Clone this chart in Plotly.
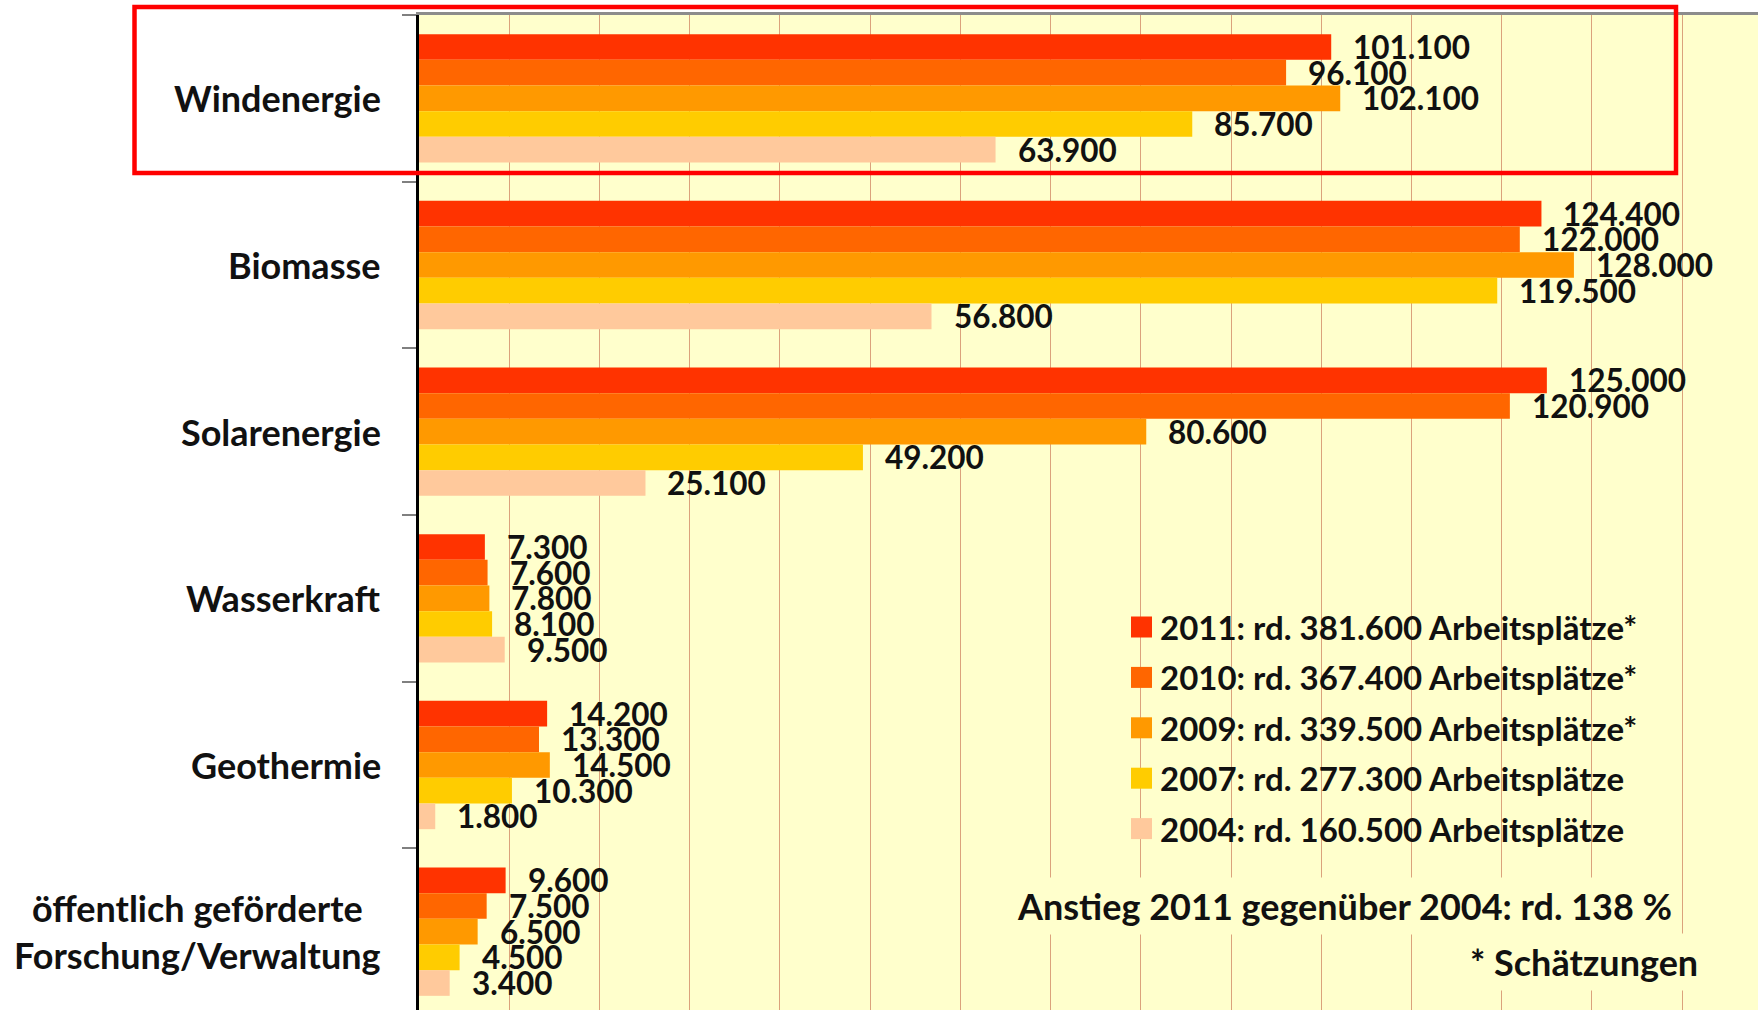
import plotly.graph_objects as go

# ---------------- data ----------------
categories = ["Windenergie", "Biomasse", "Solarenergie", "Wasserkraft", "Geothermie",
              "öffentlich geförderte<br>Forschung/Verwaltung"]
years = ["2011", "2010", "2009", "2007", "2004"]
v2011 = [101100, 124400, 125000, 7300, 14200, 9600]
v2010 = [96100, 122000, 120900, 7600, 13300, 7500]
v2009 = [102100, 128000, 80600, 7800, 14500, 6500]
v2007 = [85700, 119500, 49200, 8100, 10300, 4500]
v2004 = [63900, 56800, 25100, 9500, 1800, 3400]
series = [v2011, v2010, v2009, v2007, v2004]
legend_labels = ["2011: rd. 381.600 Arbeitsplätze*",
                 "2010: rd. 367.400 Arbeitsplätze*",
                 "2009: rd. 339.500 Arbeitsplätze*",
                 "2007: rd. 277.300 Arbeitsplätze",
                 "2004: rd. 160.500 Arbeitsplätze"]
note_increase = "Anstieg 2011 gegenüber 2004: rd. 138 %"
note_estimate = "* Schätzungen"

# ---------------- style ----------------
colors = ["#FF3300", "#FF6600", "#FF9900", "#FFCC00", "#FFC99C"]
BG = "#FFFFCC"
GRID = "#DBA27C"
FONT = "Lato"
W, H = 1758, 1010
PL, PT = 419, 15            # plot area left / top (px)
XMAX = 148400
BARGAP = 0.23
BAND = (H - PT) / 5.97
BARH = BAND * (1 - BARGAP) / len(years)


def fx(px):
    return (px - PL) / (W - PL)


def fy(py):
    return (H - py) / (H - PT)


def fmt(v):
    return f"{v:,}".replace(",", ".")


fig = go.Figure()
for name, vals, col in zip(years, series, colors):
    fig.add_trace(go.Bar(
        y=categories, x=vals, name=name, orientation="h",
        marker=dict(color=col, line=dict(width=0)),
        showlegend=False, hoverinfo="x+name",
    ))

annotations = []
shapes = []

# value labels
for i, vals in enumerate(series):
    for cat, v in zip(categories, vals):
        annotations.append(dict(
            x=v, y=cat, xref="x", yref="y", text=fmt(v), showarrow=False,
            xanchor="left", yanchor="middle", xshift=20,
            yshift=(2 - i) * BARH,
            font=dict(family=FONT, size=31.5, color="#111111", weight="bold"),
        ))

# category labels
for cat in categories:
    annotations.append(dict(
        x=fx(383), y=cat, xref="paper", yref="y", text=cat, showarrow=False,
        xanchor="right", yanchor="middle", align="center",
        font=dict(family=FONT, size=36, color="#111111", weight="bold"),
    ))

# legend background (hides gridlines)
shapes.append(dict(type="rect", xref="paper", yref="paper", layer="between",
                   x0=fx(1060), x1=fx(1720), y0=fy(853), y1=fy(600),
                   fillcolor=BG, line=dict(width=0)))

# manual legend
for i, (lab, col) in enumerate(zip(legend_labels, colors)):
    cy = 627 + i * 50.4
    shapes.append(dict(type="rect", xref="paper", yref="paper", layer="above",
                       x0=fx(1131), x1=fx(1152), y0=fy(cy + 10.5), y1=fy(cy - 10.5),
                       fillcolor=col, line=dict(width=0)))
    annotations.append(dict(
        x=fx(1158), y=fy(cy), xref="paper", yref="paper", text=lab, showarrow=False,
        xanchor="left", yanchor="middle",
        font=dict(family=FONT, size=33, color="#111111", weight="bold"),
    ))

annotations.append(dict(
    x=fx(1344), y=fy(906), xref="paper", yref="paper", text=note_increase,
    showarrow=False, xanchor="center", yanchor="middle", bgcolor=BG, borderpad=6,
    font=dict(family=FONT, size=36, color="#111111", weight="bold"),
))
annotations.append(dict(
    x=fx(1705), y=fy(962), xref="paper", yref="paper", text=note_estimate,
    showarrow=False, xanchor="right", yanchor="middle", bgcolor=BG, borderpad=6,
    font=dict(family=FONT, size=36, color="#111111", weight="bold"),
))

# red highlight frame
shapes.append(dict(type="rect", xref="paper", yref="paper", layer="above",
                   x0=fx(134.5), x1=fx(1676), y0=fy(173), y1=fy(7),
                   line=dict(color="#FF0000", width=4.5), fillcolor="rgba(0,0,0,0)"))

fig.update_layout(
    width=W, height=H,
    margin=dict(l=PL, r=0, t=PT, b=0, pad=0),
    paper_bgcolor="white", plot_bgcolor=BG,
    barmode="group", bargap=BARGAP, bargroupgap=0,
    showlegend=False,
    annotations=annotations, shapes=shapes,
    xaxis=dict(range=[0, XMAX], dtick=10000, tick0=0, showgrid=True,
               gridcolor=GRID, gridwidth=1, zeroline=False,
               side="top", showline=True, linecolor="#8C8C8C", linewidth=3,
               showticklabels=False, ticks=""),
    yaxis=dict(type="category", categoryarray=categories, categoryorder="array",
               range=[5.47, -0.5], showgrid=False, zeroline=False,
               showline=True, linecolor="#000000", linewidth=2.5,
               ticks="outside", tickson="boundaries", ticklen=14,
               tickcolor="#808080", tickwidth=2, showticklabels=False),
)

fig.write_html(
    "out.html",
    config={"displayModeBar": False},
    post_script="document.body.style.margin='0';document.body.style.overflow='hidden';",
)
